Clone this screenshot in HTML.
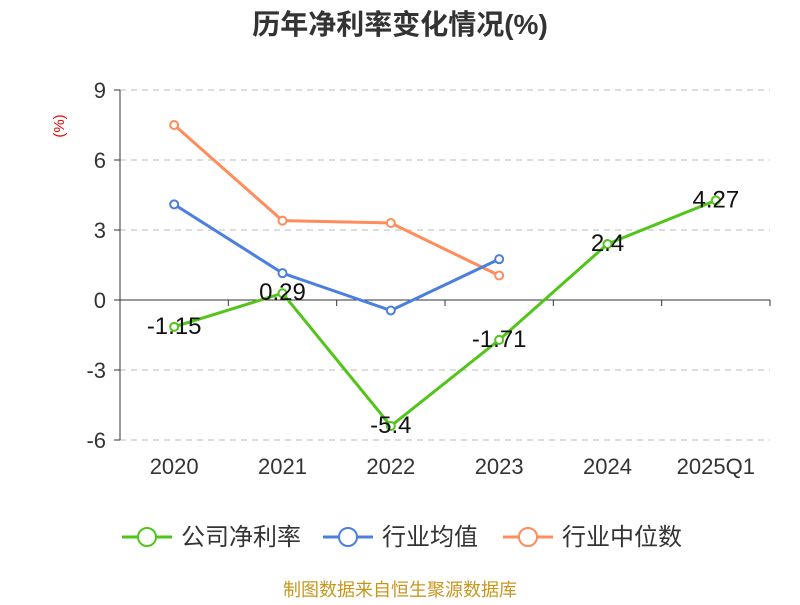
<!DOCTYPE html>
<html><head><meta charset="utf-8"><style>
body{margin:0;background:#fff;font-family:"Liberation Sans","Noto Sans CJK SC",sans-serif}
</style></head><body>
<svg width="800" height="600" xmlns="http://www.w3.org/2000/svg" style="font-family:'Liberation Sans','Noto Sans CJK SC',sans-serif">
<text x="400" y="34" text-anchor="middle" font-size="28" font-weight="bold" fill="#333">历年净利率变化情况(%)</text>
<text x="64" y="126" font-size="15" fill="#e00" transform="rotate(-90 64 126)" text-anchor="middle">(%)</text>
<g id="grid"></g><g id="axes"></g><g id="series"></g>
<g font-size="24" fill="#333">
<g><line x1="122" y1="537" x2="172" y2="537" stroke="#52c41a" stroke-width="3"/><circle cx="147" cy="537" r="9" fill="#fff" stroke="#52c41a" stroke-width="2"/><text x="181" y="545">公司净利率</text></g>
<g><line x1="323" y1="537" x2="373" y2="537" stroke="#4a7fe0" stroke-width="3"/><circle cx="348" cy="537" r="9" fill="#fff" stroke="#4a7fe0" stroke-width="2"/><text x="382" y="545">行业均值</text></g>
<g><line x1="503" y1="537" x2="553" y2="537" stroke="#ff8c5a" stroke-width="3"/><circle cx="528" cy="537" r="9" fill="#fff" stroke="#ff8c5a" stroke-width="2"/><text x="562" y="545">行业中位数</text></g>
</g>
<text x="400" y="596" text-anchor="middle" font-size="18" fill="#c8961e">制图数据来自恒生聚源数据库</text>
</svg>
<script>
const categories=["2020","2021","2022","2023","2024","2025Q1"];
const companyValues=[-1.15,0.29,-5.4,-1.71,2.4,4.27];
const avgValues=[4.1,1.15,-0.45,1.75];
const medianValues=[7.5,3.4,3.3,1.05];
const yTicks=[9,6,3,0,-3,-6];
const NS="http://www.w3.org/2000/svg";
const x0=120,x1=770,bw=(x1-x0)/categories.length;
const xs=i=>x0+bw*(i+0.5);
const ys=v=>300-v*(70/3);
function mk(t,a,p){const e=document.createElementNS(NS,t);for(const k in a)e.setAttribute(k,a[k]);p.appendChild(e);return e;}
const grid=document.getElementById('grid'),axes=document.getElementById('axes'),ser=document.getElementById('series');
yTicks.forEach(v=>{
 if(v!==0){const l=mk('line',{x1:x0,x2:x1,y1:ys(v),y2:ys(v),stroke:'#bbb','stroke-dasharray':'6,5'},grid);
 }
 mk('line',{x1:x0-6,x2:x0,y1:ys(v),y2:ys(v),stroke:'#333'},axes);
 const t=mk('text',{x:x0-14,y:ys(v)+8,'text-anchor':'end','font-size':22,fill:'#333'},axes);t.textContent=v;
 
});
const ya=mk('line',{x1:x0,x2:x0,y1:ys(9),y2:ys(-6),stroke:'#333'},axes);

const xa=mk('line',{x1:x0,x2:x1,y1:ys(0),y2:ys(0),stroke:'#333'},axes);

categories.forEach((c,i)=>{
 mk('line',{x1:x0+bw*i,x2:x0+bw*i,y1:ys(0),y2:ys(0)+6,stroke:'#333'},axes);
 const t=mk('text',{x:xs(i),y:474,'text-anchor':'middle','font-size':22,fill:'#333'},axes);t.textContent=c;
 
});
mk('line',{x1:x1,x2:x1,y1:ys(0),y2:ys(0)+6,stroke:'#333'},axes);
function series(vals,color,name,labels){
 const g=mk('g',{},ser);
 const p=mk('polyline',{points:vals.map((v,i)=>xs(i)+','+ys(v)).join(' '),fill:'none',stroke:color,'stroke-width':3},g);
 
 vals.forEach((v,i)=>{const c=mk('circle',{cx:xs(i),cy:ys(v),r:4,fill:'#fff',stroke:color,'stroke-width':2},g);
  
  if(labels){const t=mk('text',{x:xs(i),y:ys(v)+7,'text-anchor':'middle','font-size':24,fill:'#111'},g);t.textContent=v;
  }
 });
}
series(medianValues,'#ff8c5a','industry-median-series',false);
series(avgValues,'#4a7fe0','industry-avg-series',false);
series(companyValues,'#52c41a','company-series',true);
</script>
</body></html>
